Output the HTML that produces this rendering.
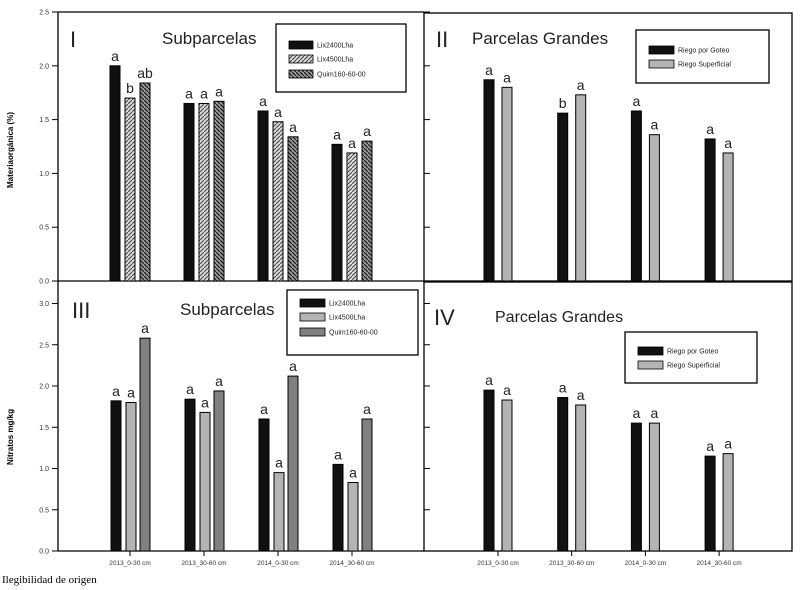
<!DOCTYPE html>
<html><head><meta charset="utf-8">
<style>
html,body{margin:0;padding:0;background:#fff;width:800px;height:590px;overflow:hidden}
svg text{font-family:"Liberation Sans",sans-serif}
</style></head>
<body>
<svg id="fig" width="800" height="590" xmlns="http://www.w3.org/2000/svg">
<defs>
<pattern id="hatchLight" patternUnits="userSpaceOnUse" width="4" height="4">
<rect width="4" height="4" fill="#d8d8d8"/><path d="M0,4 L4,0" stroke="#444" stroke-width="1"/></pattern>
<pattern id="hatchDark" patternUnits="userSpaceOnUse" width="4" height="4">
<rect width="4" height="4" fill="#999"/><path d="M0,0 L4,4" stroke="#222" stroke-width="1.3"/></pattern>
</defs>
<g id="root"></g>
<text x="2" y="583" font-size="11" style="font-family:'Liberation Serif',serif">Ilegibilidad de origen</text>
</svg>
<script>
const categories = ["2013_0-30 cm","2013_30-60 cm","2014_0-30 cm","2014_30-60 cm"];
const p1Series = ["Lix2400Lha","Lix4500Lha","Quim160-60-00"];
const p1Values = [[2.00,1.65,1.58,1.27],[1.70,1.65,1.48,1.19],[1.84,1.67,1.34,1.30]];
const p1Letters = [["a","a","a","a"],["b","a","a","a"],["ab","a","a","a"]];
const p2Series = ["Riego por Goteo","Riego Superficial"];
const p2Values = [[1.87,1.56,1.58,1.32],[1.80,1.73,1.36,1.19]];
const p2Letters = [["a","b","a","a"],["a","a","a","a"]];
const p3Values = [[1.82,1.84,1.60,1.05],[1.80,1.68,0.95,0.83],[2.58,1.94,2.12,1.60]];
const p3Letters = [["a","a","a","a"],["a","a","a","a"],["a","a","a","a"]];
const p4Values = [[1.95,1.86,1.55,1.15],[1.83,1.77,1.55,1.18]];
const p4Letters = [["a","a","a","a"],["a","a","a","a"]];
const topTicks = [0,0.5,1.0,1.5,2.0,2.5];
const botTicks = [0,0.5,1.0,1.5,2.0,2.5,3.0];

const NS="http://www.w3.org/2000/svg";
const root=document.getElementById('root');
function mk(tag,attrs,parent){const e=document.createElementNS(NS,tag);for(const k in attrs)e.setAttribute(k,attrs[k]);(parent||root).appendChild(e);return e;}
function yTop(v){return 281-107.6*v;}
function yBot(v){return 551-82.5*v;}
function xLeft(i){return 130+74*i;}
function xRight(i){return 498+73.7*i;}

// frames
let l;
l=mk('path',{d:"M58,12 H424 M58,12 V551 M58,281 H424 M58,551 H424",stroke:"#000","stroke-width":1.3,fill:"none"});


l=mk('rect',{x:424,y:13,width:368,height:268,fill:"none",stroke:"#000","stroke-width":1.3});


l=mk('rect',{x:424,y:282,width:368,height:269,fill:"none",stroke:"#000","stroke-width":1.3});



// y ticks
topTicks.forEach(t=>{
  const y=yTop(t);
  const tk=mk('line',{x1:52,x2:58,y1:y,y2:y,stroke:"#000"});
  
  
  const r=mk('line',{x1:424,x2:430,y1:y,y2:y,stroke:"#000"});
  
  
  const tx=mk('text',{x:49,y:y+2.5,"font-size":7,"text-anchor":"end",fill:"#333"});
  tx.textContent=t.toFixed(1);
  
  
});
botTicks.forEach(t=>{
  const y=yBot(t);
  const tk=mk('line',{x1:52,x2:58,y1:y,y2:y,stroke:"#000"});
  
  
  const r=mk('line',{x1:424,x2:430,y1:y,y2:y,stroke:"#000"});
  
  
  const tx=mk('text',{x:49,y:y+2.5,"font-size":7,"text-anchor":"end",fill:"#333"});
  tx.textContent=t.toFixed(1);
  
  
});
// y titles
let yt=mk('text',{x:0,y:0,"font-size":8,"font-weight":"bold","text-anchor":"middle",transform:"translate(13,150) rotate(-90)"});
yt.textContent="Materiaorgánica (%)";


yt=mk('text',{x:0,y:0,"font-size":8,"font-weight":"bold","text-anchor":"middle",transform:"translate(13,437) rotate(-90)"});
yt.textContent="Nitratos mg/kg";



// x ticks and labels
categories.forEach((c,i)=>{
  [[xLeft(i),551],[xRight(i),551]].forEach(([x,y])=>{
    const tk=mk('line',{x1:x,x2:x,y1:y,y2:y+5,stroke:"#000"});
    
    
    const tx=mk('text',{x:x,y:565,"font-size":6.5,"text-anchor":"middle",fill:"#333"});
    tx.textContent=c;
    
    
  });
});

function drawBars(values,letters,fills,xf,yf,offsets,w,name){
  values.forEach((ser,s)=>{
    ser.forEach((v,i)=>{
      const x=xf(i)+offsets[s]-w/2, y=yf(v), y0=yf(0);
      const b=mk('rect',{x:x,y:y,width:w,height:y0-y,fill:fills[s],stroke:"#000","stroke-width":1});
      
      
      const t=mk('text',{x:x+w/2,y:y-5,"font-size":14,"text-anchor":"middle",fill:"#222"});
      t.textContent=letters[s][i];
      
      
    });
  });
}
drawBars(p1Values,p1Letters,["#111","url(#hatchLight)","url(#hatchDark)"],xLeft,yTop,[-15,0,15],10,'panel-i');
drawBars(p2Values,p2Letters,["#111","#b4b4b4"],xRight,yTop,[-9,9],10,'panel-ii');
drawBars(p3Values,p3Letters,["#111","#b4b4b4","#808080"],xLeft,yBot,[-14,1,15],10,'panel-iii');
drawBars(p4Values,p4Letters,["#111","#b4b4b4"],xRight,yBot,[-9,9],10,'panel-iv');

function title(x,y,txt,size,name){
  const t=mk('text',{x:x,y:y,"font-size":size,fill:"#222"});
  t.textContent=txt;
  
  
}
title(70,47,"I",22,'panel-i-label');
title(162,44,"Subparcelas",17,'panel-i-title');
title(436,47,"II",22,'panel-ii-label');
title(472,44,"Parcelas Grandes",17,'panel-ii-title');
title(72,318,"III",22,'panel-iii-label');
title(180,315,"Subparcelas",17,'panel-iii-title');
title(434,325,"IV",22,'panel-iv-label');
title(495,322,"Parcelas Grandes",16,'panel-iv-title');

function legend(x,y,w,h,names,fills,rowY,sw,name){
  const g=mk('g',{});
  
  
  mk('rect',{x:x,y:y,width:w,height:h,fill:"#fff",stroke:"#000","stroke-width":1.3},g);
  names.forEach((n,i)=>{
    const ry=y+rowY[i];
    const sq=mk('rect',{x:x+13,y:ry-4,width:sw,height:8,fill:fills[i],stroke:"#000","stroke-width":0.8},g);
    
    
    const t=mk('text',{x:x+17+sw,y:ry+2.5,"font-size":7,fill:"#222"},g);
    t.textContent=n;
    
    
  });
}
legend(276,24,130,68,p1Series,["#111","url(#hatchLight)","url(#hatchDark)"],[21,35,50],24,'legend-panel-i');
legend(636,30,133,53,p2Series,["#111","#b4b4b4"],[20,34],25,'legend-panel-ii');
legend(287,290,131,65,p1Series,["#111","#b4b4b4","#808080"],[13,27,42],25,'legend-panel-iii');
legend(625,332,132,51,p2Series,["#111","#b4b4b4"],[19,33],25,'legend-panel-iv');
</script>
</body></html>
